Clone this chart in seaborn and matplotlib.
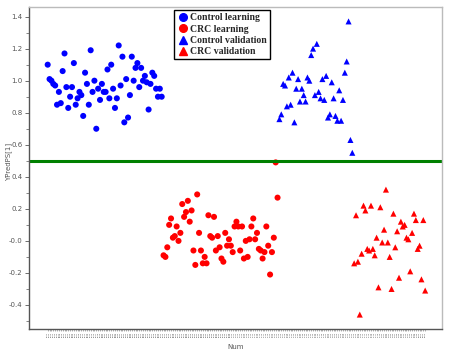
import numpy as np
import pandas as pd
import seaborn as sns
import matplotlib.pyplot as plt
from matplotlib.lines import Line2D
from matplotlib.ticker import MultipleLocator, FuncFormatter

# YPredPS[1] values, in sample order
control_learning = [1.10, 1.01, 1.00, 0.98, 0.97, 0.85, 0.93, 0.86, 1.06, 1.17,
                    0.96, 0.83, 0.90, 0.96, 1.11, 0.85, 0.89, 0.93, 0.91, 0.78,
                    1.05, 0.98, 0.85, 1.19, 0.93, 1.00, 0.70, 0.95, 0.88, 0.98,
                    0.93, 0.93, 1.07, 0.89, 1.10, 0.95, 0.83, 0.89, 1.22, 0.97,
                    1.15, 0.74, 1.01, 0.77, 0.91, 1.15, 1.00, 1.08, 1.11, 0.96,
                    1.08, 1.00, 1.03, 0.99, 0.82, 0.98, 1.05, 1.03, 0.95, 0.90,
                    0.95, 0.90]
crc_learning = [-0.09, -0.10, -0.04, 0.10, 0.14, 0.02, 0.03, 0.09, 0.00, 0.05,
                0.23, 0.15, 0.18, 0.25, 0.12, 0.19, -0.06, -0.15, 0.29, 0.05,
                -0.06, -0.14, -0.10, -0.14, 0.16, 0.03, 0.02, 0.15, -0.06, 0.03,
                -0.04, -0.11, -0.13, 0.05, -0.03, 0.01, -0.03, -0.07, 0.09, 0.12,
                0.09, -0.06, 0.09, -0.11, 0.00, -0.10, 0.01, 0.09, 0.14, 0.01,
                0.05, -0.05, -0.06, -0.11, -0.07, 0.09, -0.03, -0.21, -0.07, 0.02,
                0.49, 0.27]
control_validation = [0.76, 0.79, 0.98, 0.97, 0.84, 1.02, 0.85, 1.05, 0.74, 0.95,
                      1.01, 0.87, 0.95, 0.91, 0.87, 1.02, 1.00, 1.16, 1.20, 0.91,
                      1.23, 0.93, 0.89, 1.01, 0.88, 1.03, 0.77, 0.79, 0.99, 0.89,
                      0.78, 0.75, 0.94, 0.75, 0.88, 1.05, 1.12, 1.37, 0.63, 0.55]
crc_validation = [-0.14, 0.16, -0.13, -0.46, -0.08, 0.22, 0.19, -0.05, -0.06, 0.22,
                  -0.05, -0.09, 0.02, -0.29, 0.21, -0.01, 0.07, 0.32, -0.01, -0.10,
                  -0.30, 0.17, -0.04, 0.06, -0.23, 0.12, 0.09, 0.10, 0.02, 0.01,
                  -0.19, 0.05, 0.17, 0.13, -0.05, -0.03, -0.24, 0.13, -0.31]
group_names = ["Control learning", "CRC learning", "Control validation", "CRC validation"]
threshold = 0.5

groups = [control_learning, crc_learning, control_validation, crc_validation]
rows = []
n = 0
for name, vals in zip(group_names, groups):
    for v in vals:
        n += 1
        rows.append({"Num": n, "YPredPS[1]": v, "group": name})
df = pd.DataFrame(rows)

colors = {"Control learning": "#0000ff", "CRC learning": "#ff0000",
          "Control validation": "#0000ff", "CRC validation": "#ff0000"}
markers = {"Control learning": "o", "CRC learning": "o",
           "Control validation": "^", "CRC validation": "^"}

sns.set_style("white")
fig = plt.figure(figsize=(4.5, 3.59), dpi=100)
ax = fig.add_axes([29 / 450, 1 - 329 / 359, 413 / 450, 322 / 359])

sns.scatterplot(data=df, x="Num", y="YPredPS[1]", hue="group", style="group",
                palette=colors, markers=markers, s=19, linewidth=0,
                ax=ax, legend=False)
ax.axhline(threshold, color="#008000", lw=2.2, zorder=1)

ax.set_xlim(-9, 212)
ax.set_ylim(-0.55, 1.46)
ax.yaxis.set_major_locator(MultipleLocator(0.2))
ax.yaxis.set_minor_locator(MultipleLocator(0.1))
ax.yaxis.set_major_formatter(FuncFormatter(lambda v, p: "-0.0" if abs(v) < 1e-9 else f"{v:.1f}"))
ax.tick_params(axis="y", which="major", labelsize=5, labelcolor="#555555",
               length=3, width=0.6, color="#555555", pad=1.5, left=True)
ax.tick_params(axis="y", which="minor", length=2, width=0.5, color="#555555", left=True)

# one tiny sample label per point, as in the original dense axis
ax.set_xticks(df["Num"])
ax.set_xticklabels([f"S{i:03d}" for i in df["Num"]], fontsize=1.4, color="#333333",
                   rotation=90)
ax.tick_params(axis="x", length=1.5, width=0.4, color="#777777", pad=1, bottom=True)

for side in ["left", "bottom"]:
    ax.spines[side].set_color("#555555")
    ax.spines[side].set_linewidth(1.0)
for side in ["top", "right"]:
    ax.spines[side].set_color("#bbbbbb")
    ax.spines[side].set_linewidth(1.0)

ax.set_xlabel("Num", fontsize=5, color="#555555", labelpad=5)
ax.set_ylabel("YPredPS[1]", fontsize=5, color="#555555")
ax.yaxis.set_label_coords(-0.042, 0.52)

handles = [Line2D([], [], marker=markers[g], color=colors[g], linestyle="",
                  markersize=5.5) for g in group_names]
leg = ax.legend(handles, group_names, loc="upper left", bbox_to_anchor=(0.351, 0.99),
                frameon=True, fancybox=False, edgecolor="black", framealpha=1,
                prop={"family": "Liberation Serif", "weight": "bold", "size": 7},
                handletextpad=0.2, labelspacing=0.25, borderpad=0.3,
                handlelength=1.2, borderaxespad=0)
leg.get_frame().set_linewidth(1.0)

fig.savefig("out.png", dpi=100)
